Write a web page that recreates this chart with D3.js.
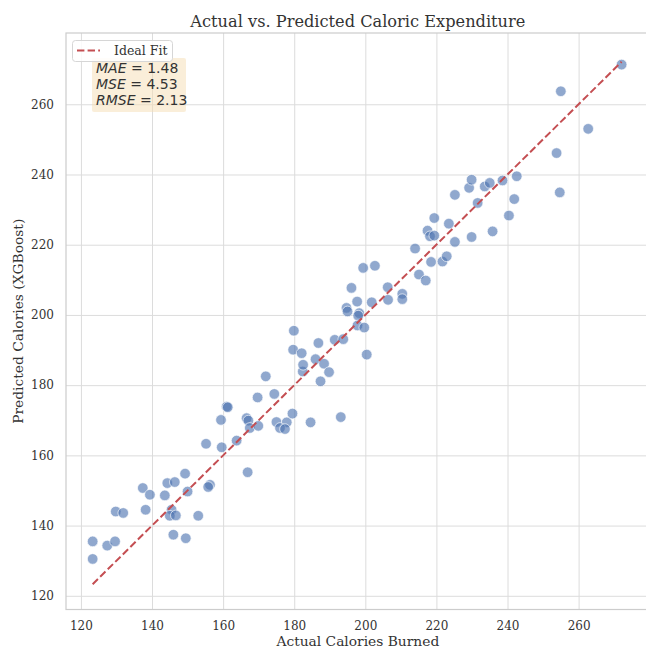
<!DOCTYPE html>
<html>
<head>
<meta charset="utf-8">
<script src="https://cdn.jsdelivr.net/npm/d3@7"></script>
<style>
  html, body { margin: 0; padding: 0; background: #ffffff; }
  svg { display: block; }
</style>
</head>
<body>
<svg id="chart" width="646" height="648"></svg>
<script>
// ---- data ----
const actualCalories = [
  123.3, 123.3, 127.4, 129.6, 129.8, 131.9, 137.4, 138.2, 139.4, 143.6,
  144.3, 146.4, 145.5, 145.0, 146.7, 146.0, 149.5, 149.3, 150.0, 153.0,
  156.3, 155.8, 155.2, 159.6, 159.4, 161.0, 161.3, 163.8, 166.9, 166.6,
  167.1, 167.5, 169.9, 169.7, 172.0, 174.4, 175.0, 177.9, 176.0, 177.4,
  179.5, 184.6, 193.1, 179.9, 179.7, 182.1, 182.4, 182.5, 186.0, 186.8,
  188.4, 189.8, 187.4, 191.4, 193.8, 194.7, 195.0, 196.1, 197.7, 198.3,
  198.0, 197.8, 199.7, 200.4, 199.4, 202.7, 201.8, 206.3, 206.4, 210.4,
  210.4, 214.0, 215.1, 217.0, 218.5, 221.7, 222.9, 217.5, 218.2, 219.4,
  219.4, 223.5, 225.2, 225.2, 229.2, 229.9, 229.9, 231.6, 233.6, 235.0,
  235.8, 238.6, 240.4, 241.9, 242.6, 253.8, 254.7, 255.0, 262.7, 272.1
];
const predictedCalories = [
  135.5, 130.5, 134.3, 135.5, 144.0, 143.6, 150.7, 144.5, 148.8, 148.6,
  152.1, 152.4, 144.5, 142.8, 142.9, 137.4, 136.4, 154.8, 149.7, 142.8,
  151.6, 151.0, 163.3, 162.3, 170.1, 173.9, 173.7, 164.2, 155.2, 170.6,
  169.9, 167.8, 168.4, 176.5, 182.5, 177.5, 169.5, 169.4, 167.8, 167.5,
  171.9, 169.4, 170.9, 195.5, 190.1, 189.1, 183.9, 185.8, 187.4, 192.0,
  186.1, 183.7, 181.1, 192.9, 193.1, 202.0, 201.0, 207.7, 203.8, 200.5,
  199.8, 197.0, 196.4, 188.7, 213.4, 214.0, 203.6, 207.9, 204.3, 206.0,
  204.5, 218.9, 211.5, 209.8, 215.1, 215.2, 216.7, 224.0, 222.4, 222.6,
  227.6, 226.0, 220.8, 234.2, 236.2, 238.5, 222.2, 231.9, 236.6, 237.6,
  223.8, 238.3, 228.3, 233.0, 239.5, 246.1, 234.9, 263.7, 253.0, 271.3
];
const xTickValues = [120, 140, 160, 180, 200, 220, 240, 260];
const yTickValues = [120, 140, 160, 180, 200, 220, 240, 260];
const xDomain = [115.8, 280.0];
const yDomain = [116.1, 280.3];
const titleText = "Actual vs. Predicted Caloric Expenditure";
const xLabelText = "Actual Calories Burned";
const yLabelText = "Predicted Calories (XGBoost)";
const legendLabel = "Ideal Fit";
const metricNames = ["MAE", "MSE", "RMSE"];
const metricValues = ["1.48", "4.53", "2.13"];

// ---- layout ----
const svg = d3.select("#chart");
const plot = { left: 66, top: 33, right: 649.7, bottom: 609.5 };
const serif = "'DejaVu Serif', serif";
const sans = "'DejaVu Sans', sans-serif";
const textColor = "#333333";
const gridColor = "#dcdcdc";

const x = d3.scaleLinear().domain(xDomain).range([plot.left, plot.right]);
const y = d3.scaleLinear().domain(yDomain).range([plot.bottom, plot.top]);

// clip
svg.append("defs").append("clipPath").attr("id", "clip")
  .append("rect").attr("x", plot.left).attr("y", plot.top)
  .attr("width", plot.right - plot.left).attr("height", plot.bottom - plot.top);

// background
svg.append("rect").attr("x", 0).attr("y", 0).attr("width", 646).attr("height", 648).attr("fill", "#ffffff");

// grid lines via axes
const gx = svg.append("g")
  .attr("transform", `translate(0,${plot.bottom})`)
  .call(d3.axisBottom(x).tickValues(xTickValues).tickSize(-(plot.bottom - plot.top)).tickPadding(12).tickFormat(d3.format("d")));
gx.select(".domain").remove();
gx.selectAll(".tick line").attr("stroke", gridColor).attr("stroke-width", 1);
gx.selectAll(".tick text").attr("font-family", serif).attr("font-size", "12px").attr("fill", textColor);

const gy = svg.append("g")
  .attr("transform", `translate(${plot.left},0)`)
  .call(d3.axisLeft(y).tickValues(yTickValues).tickSize(-(plot.right - plot.left)).tickPadding(12).tickFormat(d3.format("d")));
gy.select(".domain").remove();
gy.selectAll(".tick line").attr("stroke", gridColor).attr("stroke-width", 1);
gy.selectAll(".tick text").attr("font-family", serif).attr("font-size", "12px").attr("fill", textColor);

// spines
svg.append("rect")
  .attr("x", plot.left).attr("y", plot.top)
  .attr("width", plot.right - plot.left).attr("height", plot.bottom - plot.top)
  .attr("fill", "none").attr("stroke", "#cccccc").attr("stroke-width", 1.2);

// points
const pts = actualCalories.map((a, i) => ({ a, p: predictedCalories[i] }));
svg.append("g").attr("clip-path", "url(#clip)")
  .selectAll("circle").data(pts).join("circle")
  .attr("cx", d => x(d.a)).attr("cy", d => y(d.p)).attr("r", 5.3)
  .attr("fill", "#4c72b0").attr("fill-opacity", 0.62)
  .attr("stroke", "#ffffff").attr("stroke-opacity", 0.8).attr("stroke-width", 0.8);

// ideal fit line
const lo = Math.min(d3.min(actualCalories), d3.min(predictedCalories));
const hi = Math.max(d3.max(actualCalories), d3.max(predictedCalories));
svg.append("line")
  .attr("x1", x(lo)).attr("y1", y(lo)).attr("x2", x(hi)).attr("y2", y(hi))
  .attr("stroke", "#c44e52").attr("stroke-width", 2)
  .attr("stroke-dasharray", "7.4,3.2");

// title
svg.append("text").attr("x", (plot.left + plot.right) / 2).attr("y", 27)
  .attr("text-anchor", "middle").attr("font-family", serif).attr("font-size", "16.2px")
  .attr("fill", textColor).text(titleText);

// axis labels
svg.append("text").attr("x", (plot.left + plot.right) / 2).attr("y", 646)
  .attr("text-anchor", "middle").attr("font-family", serif).attr("font-size", "13.8px")
  .attr("fill", textColor).text(xLabelText);
svg.append("text").attr("transform", `translate(23,${(plot.top + plot.bottom) / 2}) rotate(-90)`)
  .attr("text-anchor", "middle").attr("font-family", serif).attr("font-size", "13.8px")
  .attr("fill", textColor).text(yLabelText);

// metrics box
svg.append("rect").attr("x", 92).attr("y", 58).attr("width", 94).attr("height", 54).attr("rx", 2)
  .attr("fill", "#f5deb3").attr("fill-opacity", 0.5);
const mt = svg.append("g");
metricNames.forEach((n, i) => {
  const t = mt.append("text").attr("x", 96).attr("y", 73 + i * 16)
    .attr("font-family", sans).attr("font-size", "14px").attr("fill", textColor);
  t.append("tspan").attr("font-style", "italic").text(n);
  t.append("tspan").text(" = " + metricValues[i]);
});

// legend
svg.append("rect").attr("x", 72.5).attr("y", 40.5).attr("width", 100).attr("height", 21).attr("rx", 3)
  .attr("fill", "#ffffff").attr("fill-opacity", 0.85).attr("stroke", "#d6d6d6").attr("stroke-width", 1);
svg.append("line").attr("x1", 77).attr("y1", 50.5).attr("x2", 100).attr("y2", 50.5)
  .attr("stroke", "#c44e52").attr("stroke-width", 2).attr("stroke-dasharray", "7.4,3.2");
svg.append("text").attr("x", 114).attr("y", 54.5)
  .attr("font-family", serif).attr("font-size", "12.5px").attr("fill", textColor).text(legendLabel);
</script>
</body>
</html>
